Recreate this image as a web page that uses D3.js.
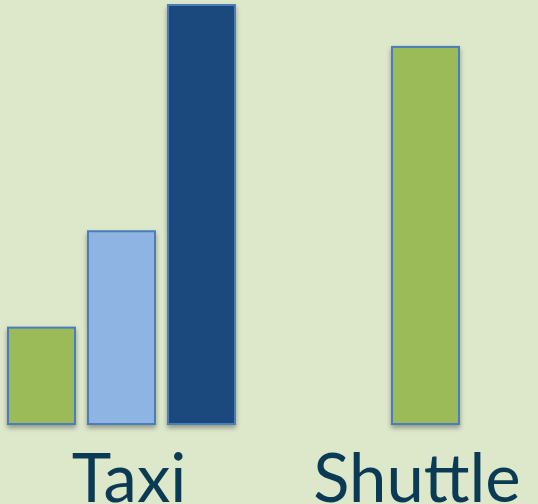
<!DOCTYPE html>
<html lang="en">
<head>
<meta charset="UTF-8">
<title>Taxi vs Shuttle</title>
<script src="https://cdn.jsdelivr.net/npm/d3@7"></script>
<style>
  body { margin: 0; background: #dde8cb; }
  svg { display: block; }
</style>
</head>
<body>
<svg width="538" height="504"></svg>
<script>
// groups and the bars that sit in each one
const groups = ["Taxi", "Shuttle"];
const taxiSeries = ["a", "b", "c"];
const taxiValues = [23, 46, 100];
const shuttleSeries = ["a"];
const shuttleValues = [90];
const colors = {a: "#9bbb59", b: "#8eb4e3", c: "#1f497d"};

const width = 538, height = 504;
const svg = d3.select("svg");

const defs = svg.append("defs");
const f = defs.append("filter").attr("id", "shadow")
    .attr("x", "-20%").attr("y", "-5%").attr("width", "140%").attr("height", "115%");
f.append("feDropShadow")
    .attr("dx", 0).attr("dy", 3).attr("stdDeviation", 2.5)
    .attr("flood-color", "#000").attr("flood-opacity", 0.35);

const yScale = d3.scaleLinear().domain([0, 100]).range([424, 5]);

// group centres
const xGroup = d3.scalePoint().domain(groups).range([121.5, 425.5]);
const labelX = d3.scalePoint().domain(groups).range([129, 417]);

const step = 80, pad = 13 / 80;
const data = [
  {group: "Taxi", keys: taxiSeries, values: taxiValues},
  {group: "Shuttle", keys: shuttleSeries, values: shuttleValues}
];

data.forEach(function(g) {
  const n = g.keys.length;
  const w = step * (n - pad);
  const inner = d3.scaleBand().domain(g.keys)
      .range([xGroup(g.group) - w / 2, xGroup(g.group) + w / 2])
      .paddingInner(n > 1 ? pad : 0).paddingOuter(0);
  svg.append("g").selectAll("rect")
    .data(g.keys.map((k, i) => ({key: k, value: g.values[i]})))
    .join("rect")
    .attr("x", d => inner(d.key))
    .attr("y", d => yScale(d.value))
    .attr("width", inner.bandwidth())
    .attr("height", d => yScale(0) - yScale(d.value))
    .attr("fill", d => colors[d.key])
    .attr("stroke", "#4a7ebb")
    .attr("stroke-width", 2)
    .attr("filter", "url(#shadow)");
});

svg.append("g").selectAll("text")
  .data(groups)
  .join("text")
  .attr("x", d => labelX(d))
  .attr("y", 502)
  .attr("text-anchor", "middle")
  .attr("font-family", "Lato, 'Open Sans', sans-serif")
  .attr("font-size", 67)
  .attr("fill", "#0b3a54")
  .text(d => d);
</script>
</body>
</html>
